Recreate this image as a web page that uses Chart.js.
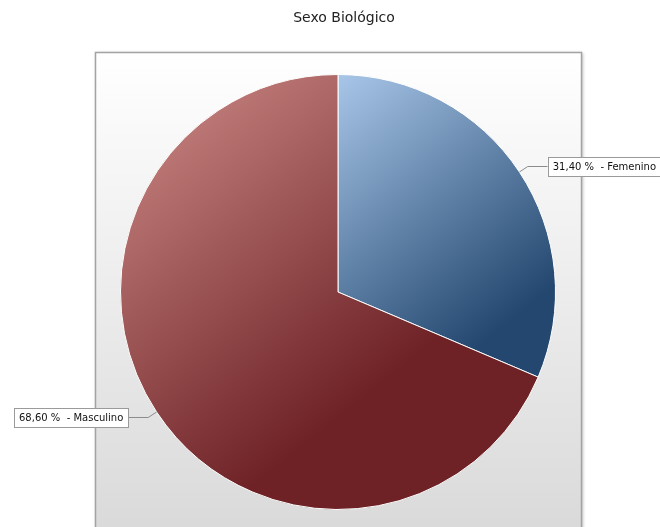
<!DOCTYPE html>
<html>
<head>
<meta charset="utf-8">
<script src="https://cdn.jsdelivr.net/npm/chart.js@4.4.0/dist/chart.umd.min.js"></script>
<style>
  body { margin: 0; background: #fff; }
  canvas { display: block; }
</style>
</head>
<body>
<canvas id="sexoChart" width="660" height="527"></canvas>
<script>
// data
const chartTitle = "Sexo Biológico";
const categories = ["Femenino", "Masculino"];
const values = [31.4, 68.6];
const lightColors = ["#a8c6e8", "#d08e8a"];
const darkColors = ["#23476f", "#6e2226"];
const darkStops = [0.9, 0.74];

function labelText(i) {
  return values[i].toFixed(2).replace(".", ",") + " %  - " + categories[i];
}

const framePlugin = {
  id: "frame",
  beforeDraw(chart) {
    const ctx = chart.ctx;
    ctx.save();
    // panel behind the pie
    const g = ctx.createLinearGradient(0, 52, 0, 527);
    g.addColorStop(0, "#ffffff");
    g.addColorStop(1, "#dadada");
    ctx.shadowColor = "rgba(0,0,0,0.25)";
    ctx.shadowBlur = 3;
    ctx.shadowOffsetX = 1;
    ctx.shadowOffsetY = 1;
    ctx.fillStyle = g;
    ctx.fillRect(95, 52, 487, 480);
    ctx.shadowColor = "transparent";
    ctx.strokeStyle = "#a3a3a3";
    ctx.lineWidth = 1.5;
    ctx.strokeRect(95.5, 52.5, 486, 480);
    // title
    ctx.fillStyle = "#222";
    ctx.font = "14px 'DejaVu Sans'";
    ctx.textAlign = "center";
    ctx.textBaseline = "middle";
    ctx.fillText(chartTitle, 344, 18);
    ctx.restore();
  },
  afterDraw(chart) {
    const ctx = chart.ctx;
    const arcs = chart.getDatasetMeta(0).data;
    ctx.save();
    ctx.font = "10px 'DejaVu Sans'";
    ctx.textBaseline = "middle";
    arcs.forEach((arc, i) => {
      const mid = (arc.startAngle + arc.endAngle) / 2;
      const cos = Math.cos(mid), sin = Math.sin(mid);
      const r = arc.outerRadius;
      const x0 = arc.x + r * cos, y0 = arc.y + r * sin;
      const x1 = arc.x + (r + 10) * cos, y1 = arc.y + (r + 10) * sin;
      const right = cos >= 0;
      const x2 = right ? x1 + 20 : x1 - 20;
      const text = labelText(i);
      const w = ctx.measureText(text).width + 10;
      const h = 19;
      const bx = right ? x2 : x2 - w;
      const by = y1 - h / 2;
      ctx.strokeStyle = "#8c8c8c";
      ctx.lineWidth = 1;
      ctx.beginPath();
      ctx.moveTo(x0, y0);
      ctx.lineTo(x1, y1);
      ctx.lineTo(x2, y1);
      ctx.stroke();
      ctx.fillStyle = "#ffffff";
      ctx.fillRect(bx, by, w, h);
      ctx.strokeStyle = "#9a9a9a";
      ctx.strokeRect(Math.round(bx) + 0.5, Math.round(by) + 0.5, Math.round(w), h);
      ctx.fillStyle = "#111";
      ctx.textAlign = "left";
      ctx.fillText(text, bx + 5, y1 + 0.5);
    });
    ctx.restore();
  }
};

// gradient over each slice's own bounding box, light top-left to dark bottom-right
function sliceGradient(context) {
  const chart = context.chart;
  const area = chart.chartArea;
  const i = context.dataIndex;
  if (!area) return lightColors[i];
  const cx = (area.left + area.right) / 2;
  const cy = (area.top + area.bottom) / 2;
  const r = Math.min(area.right - area.left, area.bottom - area.top) / 2;
  const total = values.reduce((a, b) => a + b, 0);
  let before = 0;
  for (let k = 0; k < i; k++) before += values[k];
  const a0 = -Math.PI / 2 + (before / total) * 2 * Math.PI;
  const a1 = a0 + (values[i] / total) * 2 * Math.PI;
  const xs = [cx, cx + r * Math.cos(a0), cx + r * Math.cos(a1)];
  const ys = [cy, cy + r * Math.sin(a0), cy + r * Math.sin(a1)];
  for (let q = -2; q <= 4; q++) {
    const a = q * Math.PI / 2;
    if (a > a0 && a < a1) {
      xs.push(cx + r * Math.cos(a));
      ys.push(cy + r * Math.sin(a));
    }
  }
  const x0 = Math.min(...xs), x1 = Math.max(...xs);
  const y0 = Math.min(...ys), y1 = Math.max(...ys);
  const d = (x1 - x0 + y1 - y0) / 2;
  const g = chart.ctx.createLinearGradient(x0, y0, x0 + d * 0.8, y0 + d);
  g.addColorStop(0, lightColors[i]);
  g.addColorStop(darkStops[i], darkColors[i]);
  g.addColorStop(1, darkColors[i]);
  return g;
}

const ctx = document.getElementById("sexoChart").getContext("2d");
new Chart(ctx, {
  type: "pie",
  data: {
    labels: categories,
    datasets: [
      {
        data: values,
        backgroundColor: sliceGradient,
        borderColor: "#ffffff",
        borderWidth: 1,
      },
    ],
  },
  options: {
    responsive: false,
    animation: false,
    layout: {
      padding: { left: 120, right: 104, top: 74, bottom: 17 },
    },
    plugins: {
      legend: { display: false },
      title: { display: false },
      tooltip: { enabled: false },
    },
  },
  plugins: [framePlugin],
});
</script>
</body>
</html>
